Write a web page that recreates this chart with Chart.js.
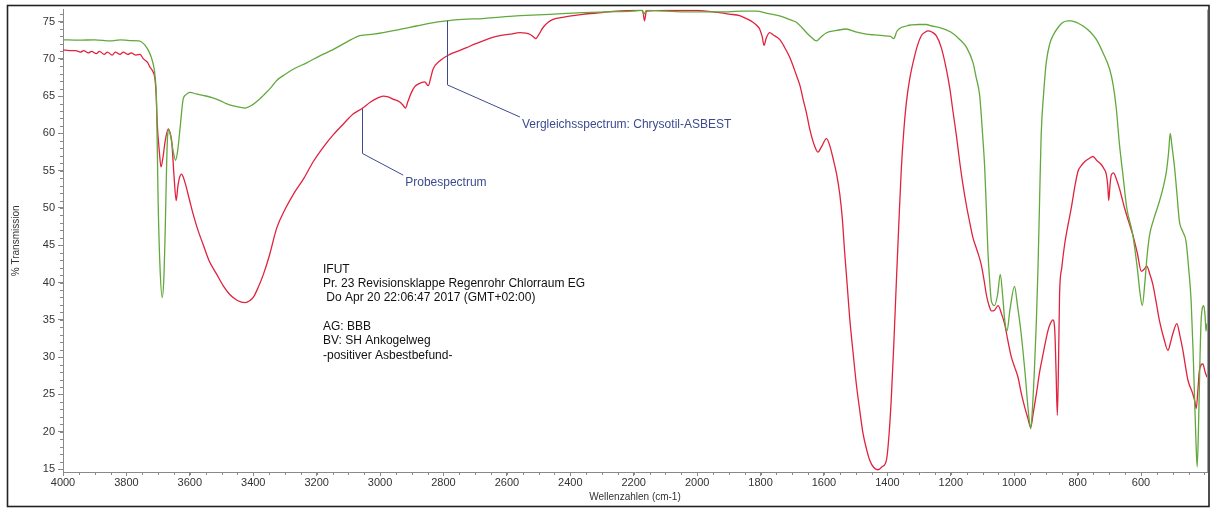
<!DOCTYPE html>
<html>
<head>
<meta charset="utf-8">
<title>IR-Spektrum</title>
<script src="https://cdn.jsdelivr.net/npm/chart.js@4.4.1/dist/chart.umd.min.js"></script>
<style>
  html, body { margin: 0; padding: 0; background: #ffffff; }
  #wrap { position: relative; width: 1210px; height: 508px; }
  canvas { display: block; }
</style>
</head>
<body>
<div id="wrap"><canvas id="spectrum" width="1210" height="508"></canvas></div>
<script>
// Probespectrum (sample) – wavenumber [cm-1] and % transmission
const sampleWavenumbers = [
  4000, 3980, 3960, 3945, 3935, 3920, 3910, 3895, 3885, 3870, 3860, 3845, 3835, 3820, 3810, 3795, 3785, 3770, 3757, 3748,
  3741, 3733, 3726, 3718, 3710, 3706, 3703, 3696, 3691, 3684, 3678, 3668, 3662, 3657, 3650, 3643, 3638, 3633, 3626, 3618,
  3610, 3600, 3589, 3575, 3558, 3540, 3515, 3495, 3474, 3450, 3426, 3410, 3400, 3385, 3368, 3350, 3326, 3300, 3274, 3240,
  3211, 3180, 3148, 3115, 3085, 3058, 3030, 3010, 2990, 2975, 2959, 2938, 2928, 2920, 2912, 2901, 2890, 2880, 2859, 2848,
  2840, 2833, 2811, 2780, 2750, 2727, 2700, 2675, 2650, 2622, 2590, 2559, 2540, 2528, 2515, 2509, 2500, 2486, 2470, 2454,
  2420, 2390, 2360, 2300, 2254, 2200, 2172, 2166, 2160, 2100, 2050, 2000, 1971, 1930, 1900, 1866, 1845, 1824, 1810, 1803,
  1795, 1789, 1782, 1771, 1760, 1740, 1725, 1708, 1687, 1675, 1666, 1655, 1645, 1632, 1619, 1608, 1592, 1582, 1571, 1560,
  1550, 1542, 1535, 1527, 1519, 1508, 1498, 1487, 1477, 1466, 1456, 1443, 1430, 1417, 1403, 1395, 1388, 1380, 1372, 1364,
  1356, 1348, 1340, 1330, 1319, 1305, 1293, 1280, 1272, 1260, 1246, 1230, 1214, 1203, 1193, 1182, 1172, 1162, 1151, 1140,
  1130, 1117, 1104, 1095, 1088, 1080, 1072, 1062, 1051, 1040, 1030, 1020, 1009, 998, 988, 978, 967, 957, 948, 940,
  930, 920, 909, 894, 886, 878, 872, 868, 864, 860, 857, 850, 841, 830, 820, 810, 799, 788, 778, 765,
  752, 738, 725, 716, 710, 705, 702, 698, 694, 687, 678, 668, 660, 652, 640, 626, 612, 599, 590, 582,
  572, 563, 552, 542, 528, 515, 508, 500, 487, 478, 468, 460, 452, 437, 430, 426, 420, 416, 405, 398, 392
];
const sampleTransmission = [
  71.2, 71.1, 71.1, 70.9, 71.1, 70.8, 71.0, 70.7, 71.0, 70.6, 70.9, 70.5, 70.9, 70.6, 70.9, 70.6, 70.8, 70.5, 70.6, 70.1,
  69.8, 69.5, 68.9, 68.4, 67.3, 65.0, 61.5, 57.5, 55.5, 57.0, 58.9, 60.6, 60.0, 58.9, 54.4, 51.0, 52.8, 54.0, 54.55, 53.8,
  52.6, 50.9, 49.1, 47.1, 45.1, 43.0, 41.1, 39.6, 38.4, 37.6, 37.3, 37.6, 38.0, 39.3, 41.1, 43.5, 47.3, 49.8, 51.8, 54.0,
  56.2, 58.1, 59.8, 61.3, 62.6, 63.3, 64.2, 64.7, 65.0, 64.9, 64.6, 64.2, 63.8, 63.4, 64.3, 65.5, 66.3, 66.6, 66.9, 66.4,
  67.5, 68.6, 69.75, 70.6, 71.1, 71.5, 72.0, 72.4, 72.8, 73.1, 73.3, 73.5, 73.45, 73.3, 72.9, 72.7, 73.2, 74.2, 74.9, 75.3,
  75.6, 75.8, 75.97, 76.2, 76.4, 76.5, 76.5, 75.1, 76.4, 76.5, 76.5, 76.5, 76.4, 76.2, 76.0, 75.8, 75.4, 74.9, 74.4, 74.0,
  73.0, 71.8, 72.8, 73.5, 73.2, 72.6, 71.6, 70.2, 67.8, 66.3, 64.6, 62.7, 60.6, 58.6, 57.5, 58.2, 59.3, 58.4, 56.6, 54.5,
  51.8, 48.5, 44.2, 39.8, 35.3, 30.5, 26.4, 22.8, 19.8, 17.7, 16.2, 15.2, 14.9, 15.3, 16.2, 19.5, 24.2, 31.5, 39.8, 47.8,
  55.3, 60.5, 64.2, 67.2, 69.5, 71.8, 73.1, 73.6, 73.75, 73.6, 73.1, 71.5, 68.6, 66.0, 62.9, 59.6, 56.2, 53.2, 50.4, 48.0,
  46.0, 44.3, 42.4, 40.3, 38.4, 37.0, 36.2, 36.3, 36.9, 35.8, 34.4, 32.2, 30.0, 28.6, 27.3, 25.2, 23.3, 21.8, 20.6, 22.5,
  25.1, 28.0, 30.4, 33.5, 34.5, 35.0, 33.5, 28.0, 22.2, 30.0, 38.4, 42.0, 45.1, 47.8, 50.0, 52.6, 54.9, 55.7, 56.2, 56.6,
  56.9, 56.3, 55.8, 55.2, 54.6, 53.0, 51.0, 53.0, 54.4, 54.7, 53.9, 52.6, 51.3, 50.0, 48.3, 46.4, 44.0, 41.5, 41.8, 42.2,
  41.1, 39.8, 37.3, 34.9, 32.5, 30.9, 31.8, 33.1, 34.5, 33.0, 30.9, 28.8, 26.9, 25.1, 24.0, 23.1, 26.0, 28.2, 29.1, 28.0, 27.3
];

// Vergleichsspectrum (Chrysotil reference) – wavenumber [cm-1] and % transmission
const refWavenumbers = [
  4000, 3950, 3900, 3850, 3820, 3790, 3760, 3745, 3736, 3728, 3720, 3714, 3710, 3705, 3700, 3694, 3687, 3682, 3678, 3671,
  3666, 3660, 3652, 3645, 3638, 3631, 3621, 3612, 3600, 3580, 3558, 3530, 3505, 3485, 3463, 3440, 3426, 3405, 3385, 3368,
  3345, 3326, 3300, 3274, 3230, 3190, 3150, 3116, 3090, 3064, 3020, 2990, 2940, 2885, 2840, 2790, 2740, 2676, 2620, 2570,
  2520, 2465, 2410, 2360, 2280, 2203, 2175, 2168, 2160, 2100, 2050, 2000, 1950, 1900, 1860, 1813, 1780, 1740, 1710, 1687,
  1670, 1655, 1640, 1624, 1610, 1592, 1560, 1530, 1500, 1466, 1440, 1414, 1390, 1380, 1377, 1370, 1340, 1300, 1277, 1260,
  1235, 1200, 1172, 1150, 1130, 1120, 1109, 1100, 1093, 1088, 1083, 1077, 1072, 1062, 1052, 1044, 1036, 1030, 1023, 1013,
  999, 990, 978, 965, 955, 948, 942, 936, 930, 925, 920, 915, 907, 899, 888, 878, 860, 846, 830, 820,
  800, 783, 760, 741, 720, 699, 688, 678, 668, 657, 645, 626, 612, 603, 596, 588, 580, 573, 560, 542,
  530, 520, 513, 508, 503, 494, 486, 479, 468, 458, 450, 442, 436, 431, 427, 423, 418, 414, 410, 402,
  398, 395, 392
];
const refTransmission = [
  72.55, 72.5, 72.55, 72.4, 72.55, 72.45, 72.4, 72.0, 71.5, 70.9, 70.0, 69.0, 67.8, 64.2, 50.9, 42.0, 38.0, 40.5, 46.4, 58.9,
  60.5, 59.5, 57.5, 56.4, 57.8, 60.6, 64.6, 65.2, 65.5, 65.3, 65.1, 64.8, 64.4, 64.0, 63.7, 63.5, 63.4, 63.75, 64.4, 65.1,
  66.1, 67.1, 67.9, 68.6, 69.5, 70.4, 71.2, 72.0, 72.6, 73.1, 73.3, 73.5, 73.9, 74.4, 74.8, 75.1, 75.3, 75.4, 75.6, 75.75,
  75.85, 75.97, 76.1, 76.2, 76.3, 76.4, 76.5, 76.0, 76.5, 76.4, 76.3, 76.3, 76.3, 76.3, 76.4, 76.4, 76.1, 75.76, 75.3, 74.9,
  74.2, 73.5, 72.9, 72.4, 72.9, 73.5, 73.8, 74.0, 73.6, 73.3, 73.2, 73.1, 73.0, 72.7, 72.9, 73.7, 74.4, 74.6, 74.6, 74.4,
  74.2, 73.6, 72.6, 71.5, 69.5, 67.5, 65.1, 60.0, 55.3, 50.0, 44.2, 40.0, 37.5, 36.9, 38.5, 41.1, 38.0, 35.0, 33.5, 36.5,
  39.5, 37.0, 33.1, 27.5, 22.5, 20.4, 23.5, 28.6, 35.0, 42.0, 51.0, 59.8, 65.5, 69.5, 72.0, 73.1, 74.3, 74.9, 75.1, 75.1,
  74.8, 74.4, 73.6, 72.6, 70.8, 68.6, 66.5, 63.3, 58.5, 54.4, 50.0, 46.4, 42.0, 38.5, 36.9, 40.0, 44.0, 46.4, 48.5, 50.9,
  52.8, 54.9, 57.5, 60.0, 58.5, 55.3, 51.5, 48.2, 46.8, 45.5, 42.0, 37.5, 31.0, 24.2, 19.0, 15.3, 22.0, 30.0, 35.3, 36.9,
  35.5, 33.5, 34.5
];

// Axis tick values
const xTickValues = [4000, 3800, 3600, 3400, 3200, 3000, 2800, 2600, 2400, 2200, 2000, 1800, 1600, 1400, 1200, 1000, 800, 600];
const yTickValues = [15, 20, 25, 30, 35, 40, 45, 50, 55, 60, 65, 70, 75];

// Texts
const xAxisTitle = 'Wellenzahlen (cm-1)';
const yAxisTitle = '% Transmission';
const infoLines = [
  'IFUT',
  'Pr. 23 Revisionsklappe Regenrohr Chlorraum EG',
  ' Do Apr 20 22:06:47 2017 (GMT+02:00)',
  '',
  'AG: BBB',
  'BV: SH Ankogelweg',
  '-positiver Asbestbefund-'
];

const FONT = '"Liberation Sans", Arial, sans-serif';
const SAMPLE_COLOR = '#e0223e';
const REF_COLOR = '#62a83c';
const NOTE_COLOR = '#3c4b8e';

function toPoints(xs, ys) { return xs.map((x, i) => ({ x: x, y: ys[i] })); }

// Leader-line callouts: anchored on a curve point, drop down, then slant to the label
const callouts = [
  { text: 'Probespectrum', xs: sampleWavenumbers, ys: sampleTransmission, at: 3058, elbowY: 57.3, endX: 2927, endY: 54.4 },
  { text: 'Vergleichsspectrum: Chrysotil-ASBEST', xs: refWavenumbers, ys: refTransmission, at: 2790, elbowY: 66.5, endX: 2559, endY: 62.2 }
];
const infoAnchor = { x: 3180, y: 41.76, lineHeight: 14.3 };

const decorations = {
  id: 'decorations',
  afterDatasetsDraw(chart) {
    const { ctx, chartArea: a, scales: { x, y } } = chart;
    ctx.save();

    // minor ticks on both axes
    ctx.strokeStyle = '#8a8a8a';
    ctx.lineWidth = 1;
    ctx.beginPath();
    for (let v = 15; v <= 76; v += 1) {
      const py = Math.round(y.getPixelForValue(v)) + 0.5;
      ctx.moveTo(a.left - 3, py); ctx.lineTo(a.left, py);
    }
    for (let v = 400; v <= 4000; v += 50) {
      const px = Math.round(x.getPixelForValue(v)) + 0.5;
      ctx.moveTo(px, a.bottom); ctx.lineTo(px, a.bottom + 3);
    }
    ctx.stroke();

    // right edge of the plot
    ctx.strokeStyle = '#a0a0a0';
    ctx.beginPath();
    ctx.moveTo(a.right + 0.5, a.top); ctx.lineTo(a.right + 0.5, a.bottom);
    ctx.stroke();

    // axis titles
    ctx.fillStyle = '#333333';
    ctx.font = '10px ' + FONT;
    ctx.textAlign = 'center';
    ctx.textBaseline = 'middle';
    ctx.fillText(xAxisTitle, (a.left + a.right) / 2, 497);
    ctx.save();
    ctx.translate(16, (a.top + a.bottom) / 2);
    ctx.rotate(-Math.PI / 2);
    ctx.fillText(yAxisTitle, 0, 0);
    ctx.restore();

    // callouts
    ctx.strokeStyle = NOTE_COLOR;
    ctx.fillStyle = NOTE_COLOR;
    ctx.lineWidth = 1;
    ctx.font = '12px ' + FONT;
    ctx.textAlign = 'left';
    ctx.textBaseline = 'middle';
    callouts.forEach(c => {
      const val = c.ys[c.xs.indexOf(c.at)];
      const x0 = Math.round(x.getPixelForValue(c.at)) + 0.5;
      const y0 = y.getPixelForValue(val);
      const y1 = y.getPixelForValue(c.elbowY);
      const x2 = x.getPixelForValue(c.endX);
      const y2 = y.getPixelForValue(c.endY);
      ctx.beginPath();
      ctx.moveTo(x0, y0); ctx.lineTo(x0, y1); ctx.lineTo(x2, y2);
      ctx.stroke();
      ctx.fillText(c.text, x2 + 2, y2 + 8);
    });

    // measurement info block
    ctx.fillStyle = '#111111';
    const ix = x.getPixelForValue(infoAnchor.x);
    const iy = y.getPixelForValue(infoAnchor.y);
    infoLines.forEach((line, i) => {
      if (line) ctx.fillText(line, ix, iy + i * infoAnchor.lineHeight);
    });

    // outer frame
    ctx.strokeStyle = '#222222';
    ctx.lineWidth = 1.6;
    ctx.strokeRect(7.5, 5.5, 1201.5, 501);
    ctx.restore();
  }
};

new Chart(document.getElementById('spectrum'), {
  type: 'line',
  data: {
    datasets: [
      { label: 'Vergleichsspectrum', data: toPoints(refWavenumbers, refTransmission), borderColor: REF_COLOR, borderWidth: 1.3 },
      { label: 'Probespectrum', data: toPoints(sampleWavenumbers, sampleTransmission), borderColor: SAMPLE_COLOR, borderWidth: 1.3 }
    ]
  },
  options: {
    responsive: false,
    animation: false,
    devicePixelRatio: 1,
    layout: { padding: { left: 0, right: 3, top: 7, bottom: 0 } },
    plugins: { legend: { display: false }, tooltip: { enabled: false } },
    elements: { point: { radius: 0 }, line: { tension: 0, fill: false, cubicInterpolationMode: 'monotone' } },
    scales: {
      x: {
        type: 'linear',
        reverse: true,
        min: 392,
        max: 4000,
        afterBuildTicks: s => { s.ticks = xTickValues.map(v => ({ value: v })); },
        afterFit: s => { s.height = 36; },
        ticks: { autoSkip: false, maxRotation: 0, padding: 0, color: '#333333', font: { family: FONT, size: 11 }, callback: v => String(v) },
        grid: { display: true, drawOnChartArea: false, drawTicks: true, tickLength: 4, color: '#8a8a8a' },
        border: { display: true, color: '#8a8a8a' }
      },
      y: {
        type: 'linear',
        min: 14.6,
        max: 76.6,
        afterBuildTicks: s => { s.ticks = yTickValues.map(v => ({ value: v })); },
        afterFit: s => { s.width = 63; },
        ticks: { autoSkip: false, padding: 3, color: '#333333', font: { family: FONT, size: 11 }, callback: v => String(v) },
        grid: { display: true, drawOnChartArea: false, drawTicks: true, tickLength: 5, color: '#8a8a8a' },
        border: { display: true, color: '#8a8a8a' }
      }
    }
  },
  plugins: [decorations]
});
</script>
</body>
</html>
